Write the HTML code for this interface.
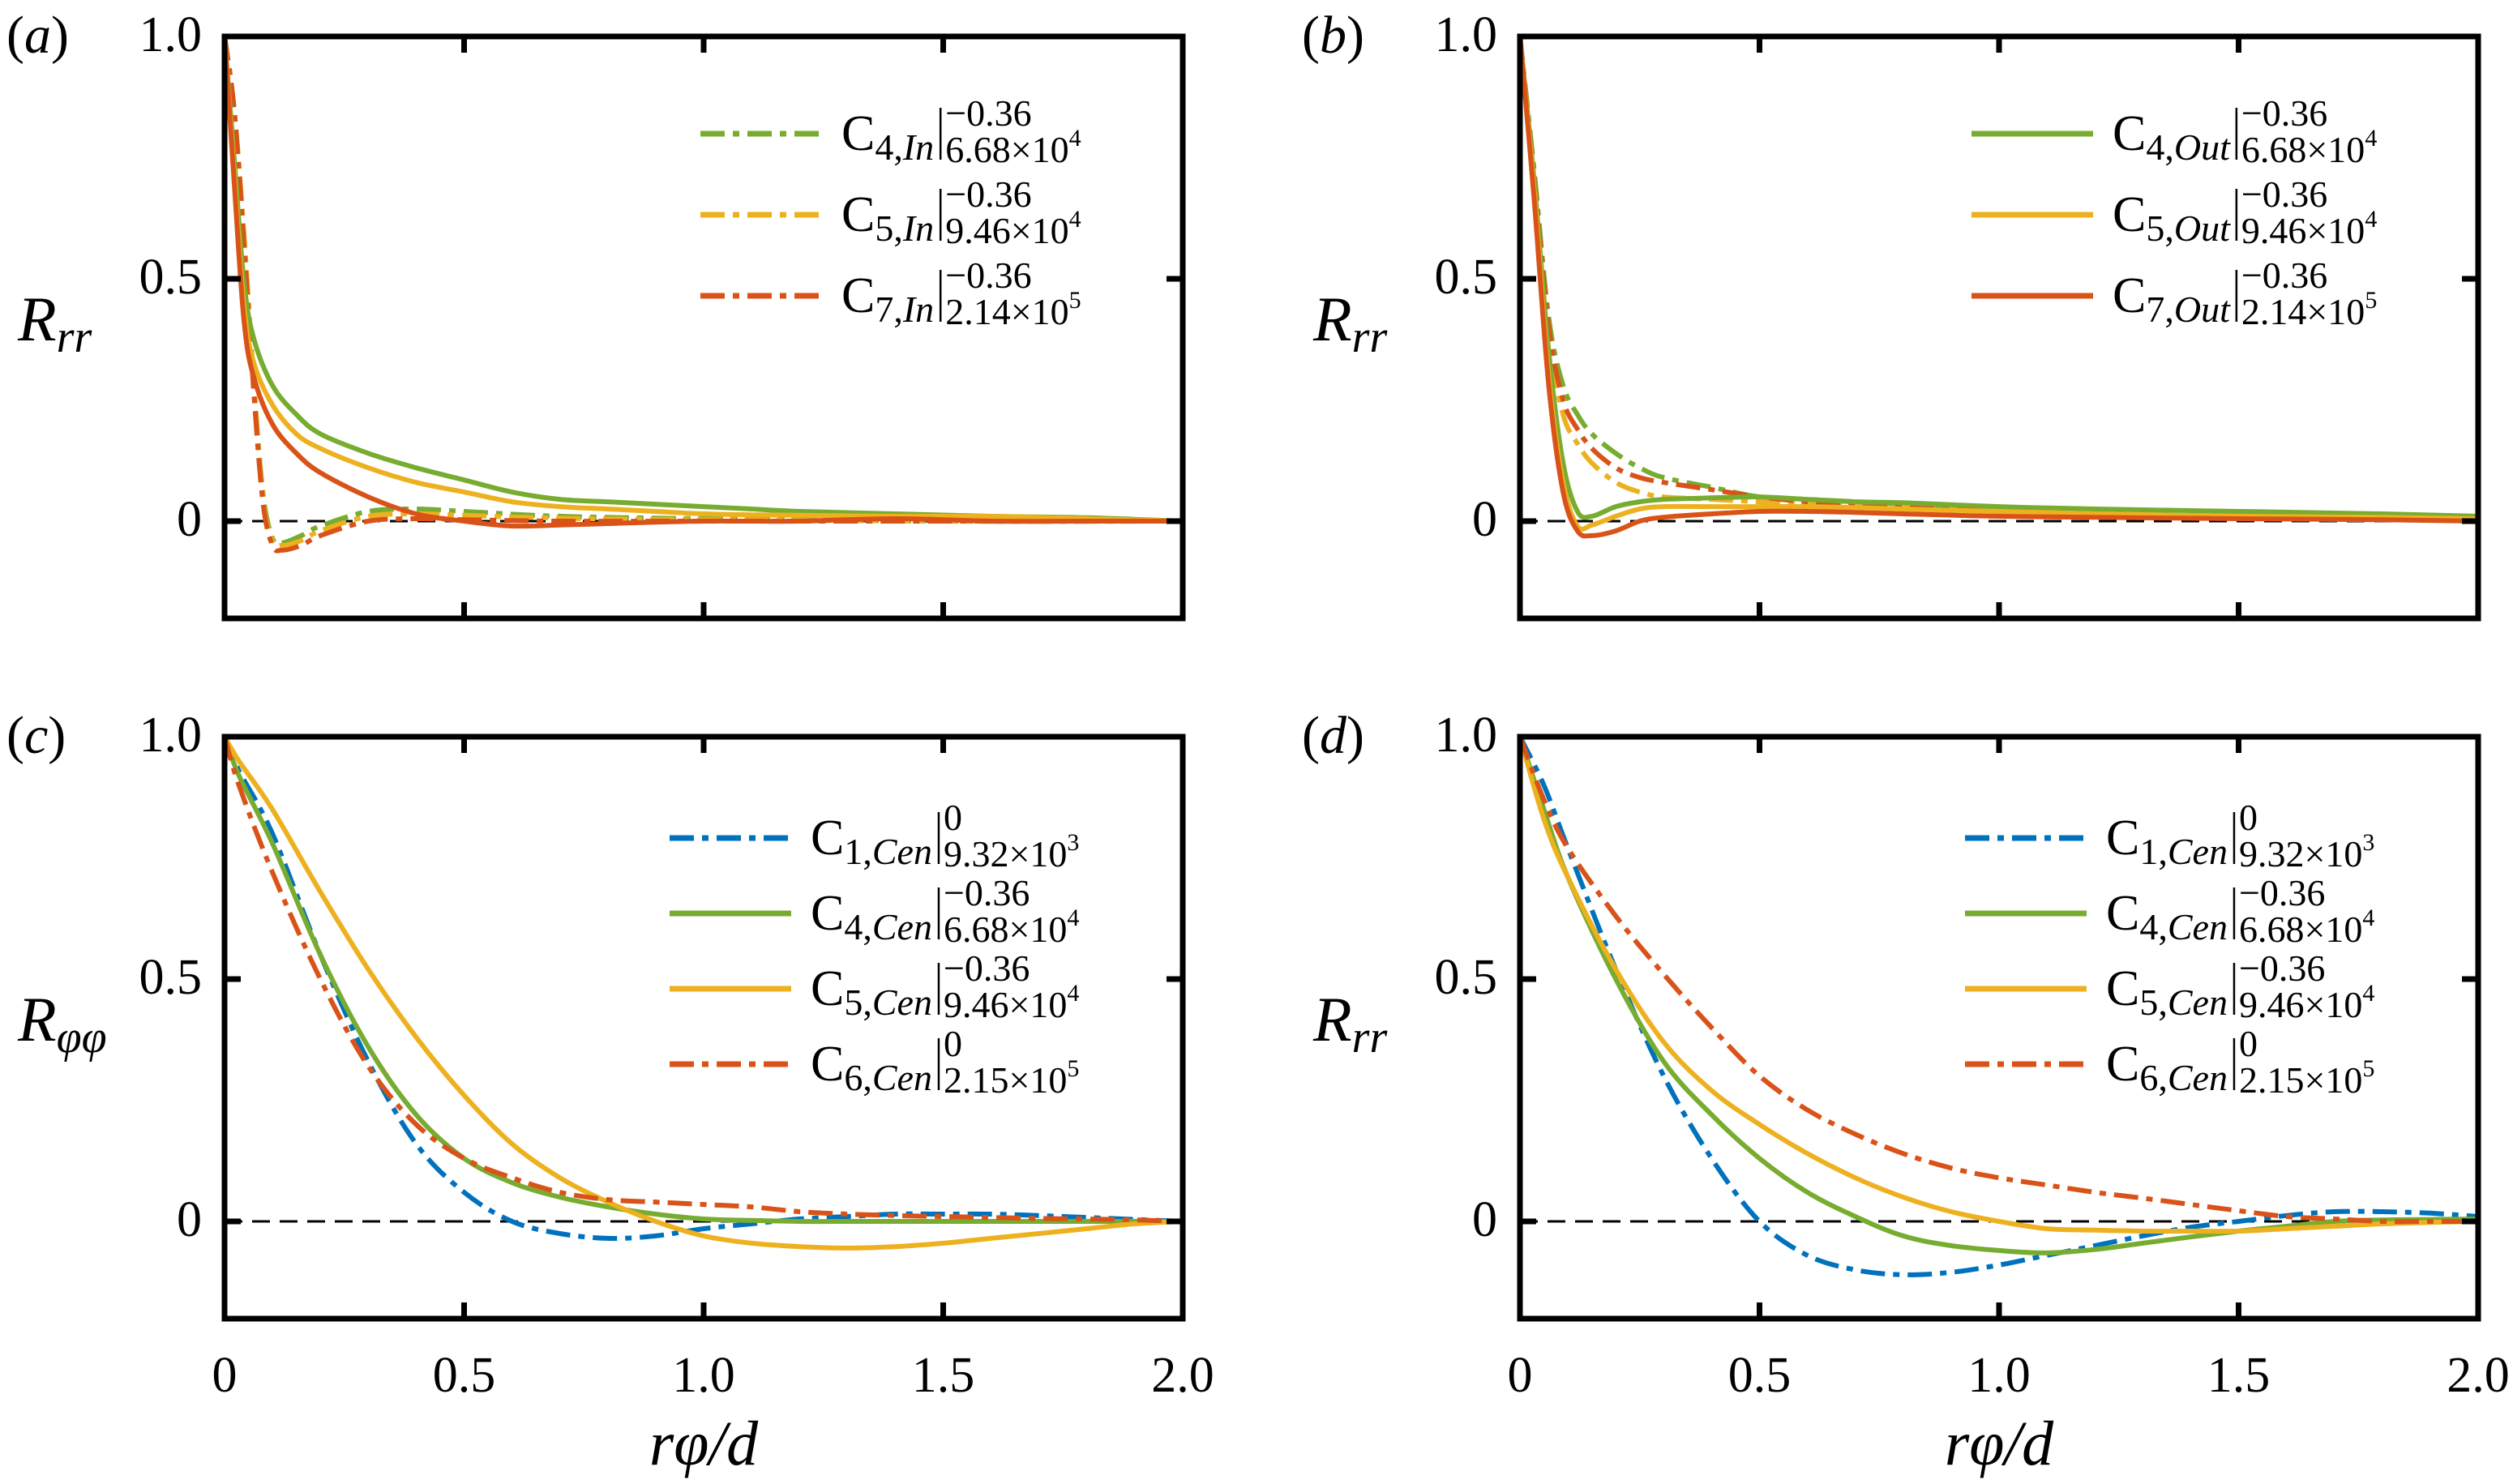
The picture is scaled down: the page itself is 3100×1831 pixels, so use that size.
<!DOCTYPE html>
<html><head><meta charset="utf-8"><style>
html,body{margin:0;padding:0;background:#fff;}
svg{display:block;}
svg text{font-family:"Liberation Serif","Times New Roman","DejaVu Serif",serif;fill:#000;}
</style></head><body>
<svg id="fig" width="3100" height="1831" viewBox="0 0 3100 1831" font-family="Liberation Serif, DejaVu Serif, serif" xmlns="http://www.w3.org/2000/svg"></svg>
<script>
// ---------- data ----------
const xTicks=[0,0.5,1.0,1.5,2.0];
const xTickLabels=["0","0.5","1.0","1.5","2.0"];
const yTicks=[0,0.5,1.0];
const yTickLabels=["0","0.5","1.0"];

const aX=[0,0.02,0.04,0.06,0.1,0.15,0.2,0.3,0.4,0.5,0.6,0.7,0.8,0.9,1.0,1.1,1.2,1.4,1.6,1.8,2.0];
const aC4=[1,0.75,0.5,0.38,0.28,0.22,0.18,0.14,0.11,0.085,0.06,0.045,0.04,0.035,0.03,0.025,0.02,0.015,0.01,0.007,0];
const aC5=[1,0.72,0.45,0.33,0.24,0.18,0.15,0.11,0.08,0.06,0.04,0.03,0.025,0.02,0.015,0.013,0.012,0.01,0.01,0.005,0];
const aC7=[1,0.7,0.42,0.3,0.2,0.14,0.1,0.05,0.015,0,-0.01,-0.008,-0.005,-0.002,0,0,0,0.005,0,0,0];
const aDX=[0,0.02,0.04,0.06,0.08,0.1,0.12,0.16,0.2,0.3,0.4,0.5,0.7,1.0,1.5,2.0];
const aD4=[1,0.85,0.6,0.3,0.06,-0.035,-0.045,-0.03,-0.01,0.02,0.025,0.02,0.01,0.005,0,0];
const aD5=[1,0.85,0.6,0.3,0.05,-0.04,-0.05,-0.04,-0.02,0.01,0.015,0.012,0.006,0.003,0,0];
const aD7=[1,0.85,0.58,0.28,0.04,-0.05,-0.06,-0.05,-0.03,0,0.005,0.003,0,0,0,0];

const bX=[0,0.03,0.06,0.09,0.12,0.15,0.2,0.25,0.3,0.4,0.5,0.6,0.7,0.8,1.0,1.2,1.5,1.8,2.0];
const bC4=[1,0.7,0.35,0.12,0.02,0.01,0.03,0.04,0.045,0.048,0.05,0.045,0.04,0.038,0.03,0.025,0.02,0.015,0.01];
const bC5=[1,0.68,0.3,0.08,-0.01,-0.008,0.01,0.025,0.03,0.03,0.03,0.03,0.028,0.025,0.02,0.015,0.01,0.008,0.005];
const bC7=[1,0.66,0.28,0.06,-0.02,-0.03,-0.02,0,0.008,0.015,0.02,0.02,0.018,0.015,0.01,0.008,0.005,0.003,0];
const bD4=[1,0.72,0.42,0.28,0.22,0.18,0.14,0.11,0.09,0.07,0.05,0.045,0.04,0.035,0.02,0.015,0.01,0.008,0.005];
const bD5=[1,0.7,0.38,0.22,0.16,0.12,0.08,0.06,0.05,0.045,0.04,0.035,0.03,0.028,0.02,0.015,0.01,0.008,0.005];
const bD7=[1,0.71,0.4,0.25,0.19,0.15,0.11,0.09,0.08,0.065,0.05,0.04,0.035,0.03,0.02,0.015,0.01,0.006,0.004];

const cX=[0,0.03,0.1,0.2,0.3,0.4,0.5,0.6,0.7,0.8,0.9,1.0,1.1,1.2,1.3,1.4,1.5,1.6,1.7,1.8,1.9,2.0];
const cC1=[1,0.93,0.8,0.55,0.33,0.16,0.06,0,-0.025,-0.035,-0.03,-0.015,-0.005,0.005,0.01,0.015,0.015,0.015,0.012,0.008,0.004,0];
const cC4=[1,0.92,0.78,0.55,0.36,0.22,0.13,0.08,0.05,0.03,0.015,0.005,0.002,0,0,0,0,0,0,0,0,0];
const cC5=[1,0.95,0.85,0.68,0.52,0.38,0.26,0.16,0.09,0.04,0,-0.03,-0.045,-0.052,-0.055,-0.052,-0.045,-0.035,-0.025,-0.015,-0.005,0];
const cC6=[1,0.9,0.72,0.5,0.32,0.2,0.13,0.09,0.06,0.045,0.04,0.035,0.03,0.02,0.015,0.012,0.01,0.008,0.006,0.005,0.003,0];

const dX=[0,0.05,0.1,0.2,0.3,0.4,0.5,0.6,0.7,0.8,0.9,1.0,1.1,1.2,1.3,1.4,1.5,1.6,1.7,1.8,1.9,2.0];
const dC1=[1,0.9,0.77,0.52,0.3,0.13,0,-0.07,-0.1,-0.11,-0.105,-0.09,-0.07,-0.05,-0.03,-0.012,0,0.012,0.02,0.02,0.017,0.01];
const dC4=[1,0.85,0.71,0.5,0.33,0.22,0.13,0.06,0.01,-0.03,-0.05,-0.06,-0.065,-0.058,-0.045,-0.032,-0.02,-0.01,0,0.003,0.004,0.005];
const dC5=[1,0.83,0.71,0.52,0.37,0.27,0.2,0.14,0.09,0.05,0.02,0,-0.015,-0.018,-0.02,-0.02,-0.02,-0.015,-0.01,-0.005,-0.002,0];
const dC6=[1,0.87,0.77,0.63,0.51,0.4,0.3,0.23,0.18,0.14,0.11,0.09,0.075,0.06,0.048,0.035,0.022,0.01,0.005,0,0,0];

// ---------- drawing ----------
const NS="http://www.w3.org/2000/svg";
const svg=document.getElementById('fig');
const GREEN="#77ac30",YEL="#edb120",RED="#d95319",BLUE="#0072bd";
const DASHDOT="30 10 8 10";
const FONT="Liberation Serif, DejaVu Serif, serif";
function el(tag,attrs,parent){const e=document.createElementNS(NS,tag);for(const k in attrs)e.setAttribute(k,attrs[k]);if(tag==='text')e.setAttribute('font-family',FONT);(parent||svg).appendChild(e);return e;}

function smoothPath(P){
  let d='M'+P[0][0].toFixed(1)+','+P[0][1].toFixed(1);
  for(let i=0;i<P.length-1;i++){
    const p0=P[Math.max(i-1,0)],p1=P[i],p2=P[i+1],p3=P[Math.min(i+2,P.length-1)];
    const c1=[p1[0]+(p2[0]-p0[0])/6,p1[1]+(p2[1]-p0[1])/6];
    const c2=[p2[0]-(p3[0]-p1[0])/6,p2[1]-(p3[1]-p1[1])/6];
    d+=' C'+c1[0].toFixed(1)+','+c1[1].toFixed(1)+' '+c2[0].toFixed(1)+','+c2[1].toFixed(1)+' '+p2[0].toFixed(1)+','+p2[1].toFixed(1);
  }
  return d;
}

function panel(id,left,top,opts){
  const W=1182, yTop=top, y0=top+598, yBot=top+718;
  const sx=v=>left+v/2*W;
  const sy=v=>y0-v*(y0-yTop);
  const g=el('g',{});
  
  
  const z=el('line',{x1:sx(0),x2:sx(2),y1:sy(0),y2:sy(0),stroke:'#000','stroke-width':3,'stroke-dasharray':'22 12'},g);
  
  
  opts.series.forEach(s=>{
    const pts=s.x.map((xv,i)=>[sx(xv),sy(s.y[i])]);
    const p=el('path',{d:smoothPath(pts),fill:'none',stroke:s.c,'stroke-width':6,'stroke-linejoin':'round'},g);
    if(s.dash)p.setAttribute('stroke-dasharray',DASHDOT);
    
    
  });
  const f=el('rect',{x:left,y:yTop,width:W,height:yBot-yTop,fill:'none',stroke:'#000','stroke-width':7},g);
  
  
  xTicks.forEach((t,i)=>{
    if(i>0&&i<xTicks.length-1){
      el('line',{x1:sx(t),x2:sx(t),y1:yBot,y2:yBot-20,stroke:'#000','stroke-width':7},g);
      el('line',{x1:sx(t),x2:sx(t),y1:yTop,y2:yTop+20,stroke:'#000','stroke-width':7},g);
    }
    if(opts.xlabels){
      const tx=el('text',{x:sx(t),y:yBot+90,'font-size':62,'text-anchor':'middle'},g);
      tx.textContent=xTickLabels[i];
      
      
    }
  });
  yTicks.forEach((t,i)=>{
    el('line',{x1:left,x2:left+20,y1:sy(t),y2:sy(t),stroke:'#000','stroke-width':7},g);
    el('line',{x1:left+W,x2:left+W-20,y1:sy(t),y2:sy(t),stroke:'#000','stroke-width':7},g);
    const tx=el('text',{x:left-28,y:sy(t)+18,'font-size':62,'text-anchor':'end'},g);
    tx.textContent=yTickLabels[i];
    
    
  });
  const pl=el('text',{x:left-269,y:yTop+20,'font-size':66},g);
  pl.innerHTML='(<tspan font-style="italic">'+id+'</tspan>)';
  
  
  const yt=el('text',{x:left-255,y:yTop+375,'font-size':78,'font-style':'italic'},g);
  yt.innerHTML='R<tspan font-size="56" dy="14">'+opts.ysub+'</tspan>';
  
  
  if(opts.xlabels){
    const xt=el('text',{x:left+W/2,y:yBot+180,'font-size':78,'font-style':'italic','text-anchor':'middle'},g);
    xt.textContent='rφ/d';
    
    
  }
  opts.legend.forEach((L,i)=>{
    const lx=left+opts.lgX, ly=yTop+opts.lgY+i*opts.lgDy;
    const lg=el('g',{},g);
    
    
    const ln=el('line',{x1:lx,x2:lx+150,y1:ly,y2:ly,stroke:L.c,'stroke-width':7},lg);
    if(L.dash)ln.setAttribute('stroke-dasharray',DASHDOT);
    const t=el('text',{x:lx+174,y:ly+20,'font-size':62},lg);
    t.innerHTML='C<tspan font-size="46" dy="12">'+L.n+',</tspan><tspan font-size="46" font-style="italic">'+L.s+'</tspan>';
    const w=t.getComputedTextLength();
    const bx=lx+174+w+8;
    el('line',{x1:bx,x2:bx,y1:ly-32,y2:ly+32,stroke:'#000','stroke-width':2.5},lg);
    const sup=el('text',{x:bx+6,y:ly-10,'font-size':46},lg);sup.textContent=L.sup;
    const sub=el('text',{x:bx+6,y:ly+35,'font-size':46},lg);
    sub.innerHTML=L.sub+'<tspan font-size="30" dy="-20">'+L.e+'</tspan>';
  });
}

panel('a',277,45,{ysub:'rr',xlabels:false,lgX:587,lgY:120,lgDy:100,
  series:[{name:'c4-in-dash',x:aDX,y:aD4,c:GREEN,dash:1},{name:'c5-in-dash',x:aDX,y:aD5,c:YEL,dash:1},{name:'c7-in-dash',x:aDX,y:aD7,c:RED,dash:1},
    {name:'c4-in',x:aX,y:aC4,c:GREEN},{name:'c5-in',x:aX,y:aC5,c:YEL},{name:'c7-in',x:aX,y:aC7,c:RED}],
  legend:[{c:GREEN,dash:1,n:'4',s:'In',sup:'−0.36',sub:'6.68×10',e:'4'},{c:YEL,dash:1,n:'5',s:'In',sup:'−0.36',sub:'9.46×10',e:'4'},{c:RED,dash:1,n:'7',s:'In',sup:'−0.36',sub:'2.14×10',e:'5'}]});
panel('b',1875,45,{ysub:'rr',xlabels:false,lgX:557,lgY:120,lgDy:100,
  series:[{name:'c4-dash',x:bX,y:bD4,c:GREEN,dash:1},{name:'c5-dash',x:bX,y:bD5,c:YEL,dash:1},{name:'c7-dash',x:bX,y:bD7,c:RED,dash:1},
    {name:'c4-out',x:bX,y:bC4,c:GREEN},{name:'c5-out',x:bX,y:bC5,c:YEL},{name:'c7-out',x:bX,y:bC7,c:RED}],
  legend:[{c:GREEN,n:'4',s:'Out',sup:'−0.36',sub:'6.68×10',e:'4'},{c:YEL,n:'5',s:'Out',sup:'−0.36',sub:'9.46×10',e:'4'},{c:RED,n:'7',s:'Out',sup:'−0.36',sub:'2.14×10',e:'5'}]});
panel('c',277,909,{ysub:'φφ',xlabels:true,lgX:549,lgY:125,lgDy:93,
  series:[{name:'c1-cen',x:cX,y:cC1,c:BLUE,dash:1},{name:'c4-cen',x:cX,y:cC4,c:GREEN},{name:'c5-cen',x:cX,y:cC5,c:YEL},{name:'c6-cen',x:cX,y:cC6,c:RED,dash:1}],
  legend:[{c:BLUE,dash:1,n:'1',s:'Cen',sup:'0',sub:'9.32×10',e:'3'},{c:GREEN,n:'4',s:'Cen',sup:'−0.36',sub:'6.68×10',e:'4'},{c:YEL,n:'5',s:'Cen',sup:'−0.36',sub:'9.46×10',e:'4'},{c:RED,dash:1,n:'6',s:'Cen',sup:'0',sub:'2.15×10',e:'5'}]});
panel('d',1875,909,{ysub:'rr',xlabels:true,lgX:549,lgY:125,lgDy:93,
  series:[{name:'c1-cen',x:dX,y:dC1,c:BLUE,dash:1},{name:'c4-cen',x:dX,y:dC4,c:GREEN},{name:'c5-cen',x:dX,y:dC5,c:YEL},{name:'c6-cen',x:dX,y:dC6,c:RED,dash:1}],
  legend:[{c:BLUE,dash:1,n:'1',s:'Cen',sup:'0',sub:'9.32×10',e:'3'},{c:GREEN,n:'4',s:'Cen',sup:'−0.36',sub:'6.68×10',e:'4'},{c:YEL,n:'5',s:'Cen',sup:'−0.36',sub:'9.46×10',e:'4'},{c:RED,dash:1,n:'6',s:'Cen',sup:'0',sub:'2.15×10',e:'5'}]});
</script>
</body></html>
